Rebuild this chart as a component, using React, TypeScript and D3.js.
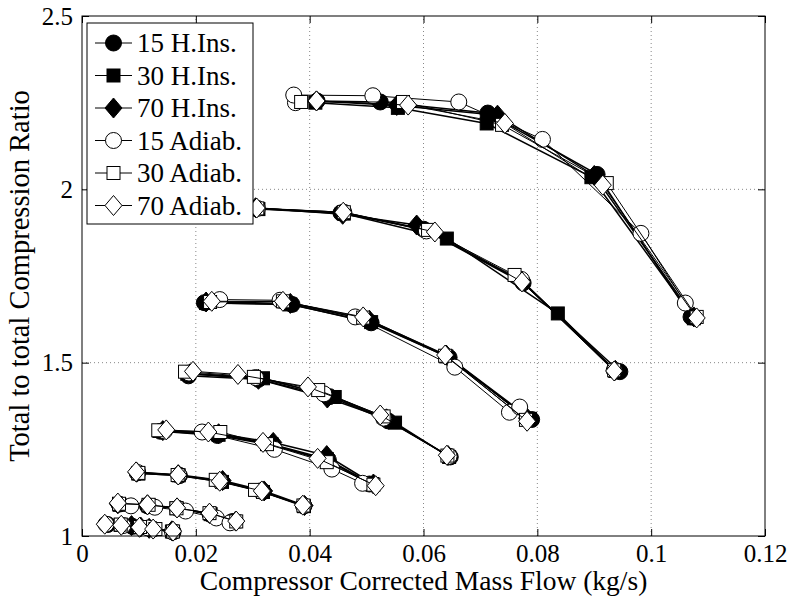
import { useEffect, useRef } from 'react';
import * as d3 from 'd3';

// each series = list of speed lines, each speed line = [mass flow (kg/s), compression ratio]
const h15 = [
  [[0.0045, 1.033], [0.0088, 1.028], [0.0125, 1.02], [0.016, 1.012]],
  [[0.0065, 1.092], [0.0115, 1.087], [0.0168, 1.08], [0.0225, 1.063], [0.0265, 1.042]],
  [[0.0097, 1.182], [0.0171, 1.174], [0.0245, 1.157], [0.0318, 1.128], [0.039, 1.087]],
  [[0.0138, 1.302], [0.0238, 1.29], [0.0335, 1.262], [0.0433, 1.218], [0.0505, 1.15]],
  [[0.0187, 1.462], [0.031, 1.452], [0.0435, 1.402], [0.0538, 1.332], [0.0647, 1.228]],
  [[0.0215, 1.673], [0.0369, 1.668], [0.0508, 1.615], [0.0645, 1.515], [0.079, 1.336]],
  [[0.0305, 1.945], [0.0455, 1.932], [0.060, 1.885], [0.0775, 1.73], [0.0945, 1.474]],
  [[0.0413, 2.255], [0.0524, 2.252], [0.0713, 2.22], [0.0905, 2.043], [0.107, 1.632]],
];
const h30 = [
  [[0.0068, 1.032], [0.0102, 1.025], [0.0128, 1.02], [0.0158, 1.013]],
  [[0.0066, 1.09], [0.0117, 1.088], [0.0166, 1.08], [0.0226, 1.063], [0.0268, 1.042]],
  [[0.0099, 1.18], [0.017, 1.175], [0.0246, 1.156], [0.0318, 1.127], [0.039, 1.086]],
  [[0.0136, 1.303], [0.024, 1.292], [0.0333, 1.265], [0.043, 1.222], [0.051, 1.15]],
  [[0.0185, 1.468], [0.0318, 1.455], [0.0444, 1.401], [0.055, 1.327], [0.0645, 1.228]],
  [[0.0218, 1.672], [0.0366, 1.668], [0.0508, 1.617], [0.064, 1.518], [0.0787, 1.338]],
  [[0.031, 1.943], [0.046, 1.93], [0.0641, 1.858], [0.0836, 1.642], [0.0937, 1.476]],
  [[0.041, 2.25], [0.0555, 2.235], [0.0711, 2.19], [0.0895, 2.035], [0.1075, 1.628]],
];
const h70 = [
  [[0.0087, 1.03], [0.0103, 1.026], [0.0118, 1.022], [0.0158, 1.015]],
  [[0.0063, 1.093], [0.0115, 1.09], [0.0167, 1.081], [0.0224, 1.065], [0.027, 1.043]],
  [[0.0096, 1.184], [0.0169, 1.177], [0.0247, 1.16], [0.032, 1.13], [0.0391, 1.088]],
  [[0.0142, 1.304], [0.024, 1.295], [0.0336, 1.27], [0.043, 1.232], [0.0512, 1.15]],
  [[0.019, 1.468], [0.031, 1.452], [0.0431, 1.398], [0.0535, 1.338], [0.0643, 1.232]],
  [[0.0218, 1.675], [0.0366, 1.671], [0.0505, 1.622], [0.064, 1.522], [0.0782, 1.34]],
  [[0.0305, 1.947], [0.0458, 1.928], [0.0588, 1.897], [0.0773, 1.735], [0.0937, 1.478]],
  [[0.0412, 2.255], [0.0553, 2.242], [0.073, 2.214], [0.09, 2.04], [0.1075, 1.632]],
];
const a15 = [
  [[0.0042, 1.034], [0.0072, 1.03], [0.0116, 1.023], [0.0159, 1.012]],
  [[0.0086, 1.087], [0.0128, 1.083], [0.0182, 1.072], [0.0236, 1.052], [0.026, 1.038]],
  [[0.0098, 1.183], [0.017, 1.176], [0.0242, 1.158], [0.0314, 1.13], [0.0389, 1.088]],
  [[0.0145, 1.303], [0.0211, 1.3], [0.0338, 1.25], [0.0439, 1.193], [0.0493, 1.152]],
  [[0.0188, 1.47], [0.0305, 1.457], [0.0425, 1.41], [0.053, 1.34], [0.0645, 1.23]],
  [[0.0242, 1.682], [0.0348, 1.68], [0.048, 1.632], [0.0655, 1.487], [0.0751, 1.357], [0.0769, 1.372]],
  [[0.0308, 1.945], [0.046, 1.934], [0.0605, 1.88], [0.0772, 1.74], [0.0935, 1.478]],
  [[0.0375, 2.25], [0.0372, 2.272], [0.0511, 2.27], [0.0662, 2.252], [0.0809, 2.144], [0.0982, 1.873], [0.106, 1.672]],
];
const a30 = [
  [[0.0068, 1.033], [0.0102, 1.026], [0.0129, 1.02], [0.016, 1.013]],
  [[0.0065, 1.093], [0.0117, 1.09], [0.0166, 1.08], [0.0224, 1.066], [0.0271, 1.042]],
  [[0.0099, 1.182], [0.0168, 1.176], [0.0235, 1.162], [0.0304, 1.133], [0.0389, 1.088]],
  [[0.0134, 1.305], [0.0243, 1.3], [0.0325, 1.265], [0.043, 1.213], [0.0512, 1.148]],
  [[0.0181, 1.474], [0.0302, 1.459], [0.0415, 1.421], [0.053, 1.345], [0.0642, 1.232]],
  [[0.0225, 1.675], [0.0353, 1.677], [0.0494, 1.63], [0.0638, 1.52], [0.078, 1.335]],
  [[0.0308, 1.945], [0.046, 1.934], [0.0608, 1.883], [0.076, 1.753], [0.0935, 1.478]],
  [[0.0385, 2.252], [0.0564, 2.252], [0.0738, 2.186], [0.0922, 2.018], [0.108, 1.632]],
];
const a70 = [
  [[0.004, 1.034], [0.0069, 1.031], [0.0101, 1.025], [0.0125, 1.02], [0.016, 1.014]],
  [[0.0063, 1.095], [0.0115, 1.09], [0.0167, 1.081], [0.0224, 1.066], [0.0271, 1.043]],
  [[0.0095, 1.185], [0.0169, 1.176], [0.0242, 1.158], [0.0316, 1.13], [0.0388, 1.089]],
  [[0.0148, 1.306], [0.0222, 1.3], [0.0318, 1.27], [0.0414, 1.224], [0.0516, 1.145]],
  [[0.0195, 1.475], [0.0274, 1.466], [0.0397, 1.43], [0.0524, 1.349], [0.0641, 1.233]],
  [[0.0228, 1.677], [0.0353, 1.677], [0.0494, 1.632], [0.0638, 1.522], [0.0782, 1.331]],
  [[0.0307, 1.946], [0.0459, 1.934], [0.062, 1.877], [0.0773, 1.733], [0.0935, 1.476]],
  [[0.0412, 2.255], [0.0573, 2.243], [0.0743, 2.19], [0.0915, 2.012], [0.108, 1.629]],
];

const seriesData = [h15, h30, h70, a15, a30, a70];
const seriesLabels = ['15 H.Ins.', '30 H.Ins.', '70 H.Ins.', '15 Adiab.', '30 Adiab.', '70 Adiab.'];
const seriesMarkers = ['circle', 'square', 'diamond', 'circle', 'square', 'diamond'];
const seriesFilled = [true, true, true, false, false, false];

const xTicks = [0, 0.02, 0.04, 0.06, 0.08, 0.1, 0.12];
const xTickLabels = ['0', '0.02', '0.04', '0.06', '0.08', '0.1', '0.12'];
const yTicks = [1, 1.5, 2, 2.5];
const yTickLabels = ['1', '1.5', '2', '2.5'];

const FONT = '"Liberation Serif", "Times New Roman", serif';

function addMarker(sel: any, kind: string, filled: boolean) {
  const fill = filled ? '#000' : '#fff';
  if (kind === 'circle') {
    sel.append('circle').attr('r', 8);
  } else if (kind === 'square') {
    sel.append('rect').attr('x', -6.5).attr('y', -6.5).attr('width', 13).attr('height', 13);
  } else {
    sel.append('path').attr('d', 'M0,-10L8.5,0L0,10L-8.5,0Z');
  }
  sel.selectAll('*').attr('fill', fill).attr('stroke', '#000').attr('stroke-width', 1);
}

export default function App() {
  const svgRef = useRef<SVGSVGElement>(null);

  useEffect(() => {
    if (!svgRef.current) return;
    document.body.style.margin = '0';
    d3.select(svgRef.current).selectAll('*').remove();

    const width = 793;
    const height = 600;
    const left = 82, right = 765, top = 16, bottom = 536;

    const svg = d3.select(svgRef.current).attr('width', width).attr('height', height);
    svg.append('rect').attr('width', width).attr('height', height).attr('fill', '#fff');

    const x = d3.scaleLinear().domain([0, 0.12]).range([left, right]);
    const y = d3.scaleLinear().domain([1, 2.5]).range([bottom, top]);

    // grid
    const grid = svg.append('g').attr('stroke', '#888').attr('stroke-width', 1).attr('stroke-dasharray', '1,3');
    xTicks.slice(1, -1).forEach(t => {
      grid.append('line').attr('x1', x(t)).attr('x2', x(t)).attr('y1', bottom).attr('y2', top);
    });
    yTicks.slice(1, -1).forEach(t => {
      grid.append('line').attr('x1', left).attr('x2', right).attr('y1', y(t)).attr('y2', y(t));
    });

    // series
    const line = d3.line<number[]>().x(d => x(d[0])).y(d => y(d[1]));
    seriesData.forEach((lines, si) => {
      const g = svg.append('g');
      lines.forEach(pts => {
        g.append('path')
          .attr('d', line(pts))
          .attr('fill', 'none')
          .attr('stroke', '#000')
          .attr('stroke-width', seriesFilled[si] ? 1.5 : 1);
      });
      lines.forEach(pts => {
        pts.forEach(p => {
          const m = g.append('g').attr('transform', `translate(${x(p[0])},${y(p[1])})`);
          addMarker(m, seriesMarkers[si], seriesFilled[si]);
        });
      });
    });

    // axes (ticks inward)
    const styleAxis = (a: any) => {
      a.select('.domain').remove();
      a.attr('font-family', FONT).attr('font-size', 25);
      a.selectAll('text').attr('fill', '#000');
      a.selectAll('line').attr('stroke', '#000');
    };
    svg.append('g').attr('transform', `translate(0,${bottom})`)
      .call(d3.axisBottom(x).tickValues(xTicks).tickFormat((_d, i) => xTickLabels[i])
        .tickSizeInner(-7).tickSizeOuter(0).tickPadding(8))
      .call(styleAxis);
    svg.append('g').attr('transform', `translate(0,${top})`)
      .call(d3.axisTop(x).tickValues(xTicks).tickFormat(() => '').tickSizeInner(-7).tickSizeOuter(0))
      .call(styleAxis);
    svg.append('g').attr('transform', `translate(${left},0)`)
      .call(d3.axisLeft(y).tickValues(yTicks).tickFormat((_d, i) => yTickLabels[i])
        .tickSizeInner(-7).tickSizeOuter(0).tickPadding(9))
      .call(styleAxis);
    svg.append('g').attr('transform', `translate(${right},0)`)
      .call(d3.axisRight(y).tickValues(yTicks).tickFormat(() => '').tickSizeInner(-7).tickSizeOuter(0))
      .call(styleAxis);

    svg.append('rect')
      .attr('x', left).attr('y', top).attr('width', right - left).attr('height', bottom - top)
      .attr('fill', 'none').attr('stroke', '#000').attr('stroke-width', 1);

    // axis labels
    svg.append('text')
      .attr('x', (left + right) / 2).attr('y', 590)
      .attr('text-anchor', 'middle')
      .attr('font-family', FONT).attr('font-size', 27.5)
      .text('Compressor Corrected Mass Flow (kg/s)');
    svg.append('text')
      .attr('transform', `translate(29,${(top + bottom) / 2}) rotate(-90)`)
      .attr('text-anchor', 'middle')
      .attr('font-family', FONT).attr('font-size', 28.5)
      .text('Total to total Compression Ratio');

    // legend
    const lg = svg.append('g');
    lg.append('rect').attr('x', 87).attr('y', 23).attr('width', 166).attr('height', 201)
      .attr('fill', '#fff').attr('stroke', '#000').attr('stroke-width', 1);
    seriesLabels.forEach((lab, i) => {
      const cy = 43 + i * 32.5;
      lg.append('line').attr('x1', 95).attr('x2', 132).attr('y1', cy).attr('y2', cy)
        .attr('stroke', '#000').attr('stroke-width', 1);
      const m = lg.append('g').attr('transform', `translate(113.5,${cy})`);
      addMarker(m, seriesMarkers[i], seriesFilled[i]);
      lg.append('text').attr('x', 137).attr('y', cy + 9)
        .attr('font-family', FONT).attr('font-size', 27)
        .text(lab);
    });
  }, []);

  return <svg ref={svgRef} style={{ display: 'block' }}></svg>;
}
